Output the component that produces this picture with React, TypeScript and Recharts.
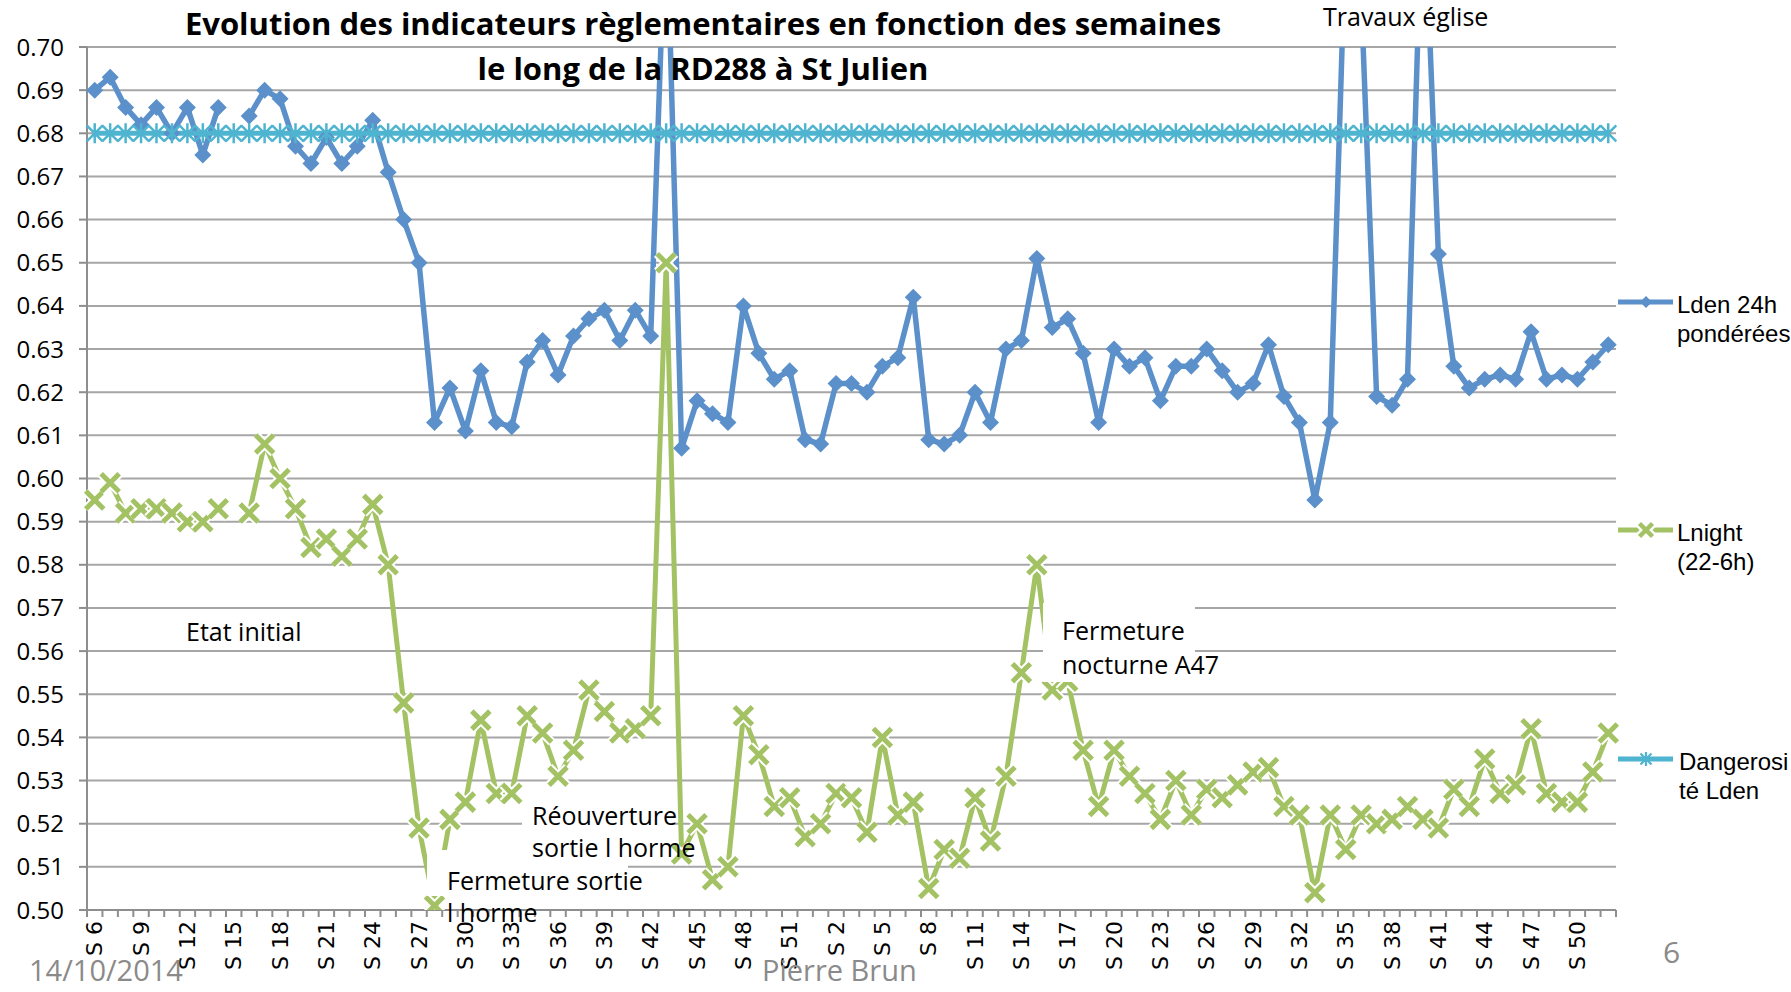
import React from 'react';
import { LineChart, Line, XAxis, YAxis, CartesianGrid } from 'recharts';

// ---------- data ----------
const weeks = [
  6, 7, 8, 9, 10, 11, 12, 13, 14, 15, 16, 17, 18, 19, 20, 21, 22, 23, 24, 25, 26, 27, 28, 29, 30,
  31, 32, 33, 34, 35, 36, 37, 38, 39, 40, 41, 42, 43, 44, 45, 46, 47, 48, 49, 50, 51, 52,
  1, 2, 3, 4, 5, 6, 7, 8, 9, 10, 11, 12, 13, 14, 15, 16, 17, 18, 19, 20, 21, 22, 23, 24, 25, 26,
  27, 28, 29, 30, 31, 32, 33, 34, 35, 36, 37, 38, 39, 40, 41, 42, 43, 44, 45, 46, 47, 48, 49, 50, 51, 52,
];

const ldenValues: (number | null)[] = [
  0.690, 0.693, 0.686, 0.682, 0.686, 0.680, 0.686, 0.675, 0.686, null,
  0.684, 0.690, 0.688, 0.677, 0.673, 0.679, 0.673, 0.677, 0.683, 0.671,
  0.660, 0.650, 0.613, 0.621, 0.611, 0.625, 0.613, 0.612, 0.627, 0.632,
  0.624, 0.633, 0.637, 0.639, 0.632, 0.639, 0.633, 0.735, 0.607, 0.618,
  0.615, 0.613, 0.640, 0.629, 0.623, 0.625, 0.609, 0.608, 0.622, 0.622,
  0.620, 0.626, 0.628, 0.642, 0.609, 0.608, 0.610, 0.620, 0.613, 0.630,
  0.632, 0.651, 0.635, 0.637, 0.629, 0.613, 0.630, 0.626, 0.628, 0.618,
  0.626, 0.626, 0.630, 0.625, 0.620, 0.622, 0.631, 0.619, 0.613, 0.595,
  0.613, 0.727, 0.712, 0.619, 0.617, 0.623, 0.742, 0.652, 0.626, 0.621,
  0.623, 0.624, 0.623, 0.634, 0.623, 0.624, 0.623, 0.627, 0.631,
];

const lnightValues: (number | null)[] = [
  0.595, 0.599, 0.592, 0.593, 0.593, 0.592, 0.590, 0.590, 0.593, null,
  0.592, 0.608, 0.600, 0.593, 0.584, 0.586, 0.582, 0.586, 0.594, 0.580,
  0.548, 0.519, 0.501, 0.521, 0.525, 0.544, 0.527, 0.527, 0.545, 0.541,
  0.531, 0.537, 0.551, 0.546, 0.541, 0.542, 0.545, 0.650, 0.513, 0.520,
  0.507, 0.510, 0.545, 0.536, 0.524, 0.526, 0.517, 0.520, 0.527, 0.526,
  0.518, 0.540, 0.522, 0.525, 0.505, 0.514, 0.512, 0.526, 0.516, 0.531,
  0.555, 0.580, 0.551, 0.553, 0.537, 0.524, 0.537, 0.531, 0.527, 0.521,
  0.530, 0.522, 0.528, 0.526, 0.529, 0.532, 0.533, 0.524, 0.522, 0.504,
  0.522, 0.514, 0.522, 0.520, 0.521, 0.524, 0.521, 0.519, 0.528, 0.524,
  0.535, 0.527, 0.529, 0.542, 0.527, 0.525, 0.525, 0.532, 0.541,
];

const dangerValues: number[] = weeks.map(() => 0.68);

const yTicks = [
  0.50, 0.51, 0.52, 0.53, 0.54, 0.55, 0.56, 0.57, 0.58, 0.59, 0.60,
  0.61, 0.62, 0.63, 0.64, 0.65, 0.66, 0.67, 0.68, 0.69, 0.70,
];

const seriesNames = ['Lden 24h pondérées', 'Lnight (22-6h)', 'Dangerosité Lden'];

const data = weeks.map((w, i) => ({
  week: `S ${w}`,
  lden: ldenValues[i],
  lnight: lnightValues[i],
  danger: dangerValues[i],
}));

// ---------- styles ----------
const W = 1791;
const H = 992;
const PLOT_LEFT = 87;
const PLOT_RIGHT = 1616;
const PLOT_TOP = 47;
const PLOT_BOTTOM = 910;
const BAND = (PLOT_RIGHT - PLOT_LEFT) / weeks.length;

const BLUE = '#5B90CA';
const GREEN = '#A3C264';
const CYAN = '#4FB4CF';
const GRID = '#A6A6A6';
const AXIS = '#8E8E8E';
const CAL = '"Open Sans", "Noto Sans", sans-serif';

const isBad = (v: any) => v == null || Number.isNaN(v);

const DiamondDot = (props: any) => {
  const { cx, cy, value, index } = props;
  if (isBad(cx) || isBad(cy) || value == null || value > 0.7) return <g key={`dd-${index}`} />;
  const r = 8.5;
  return (
    <path
      key={`dd-${index}`}
      d={`M${cx},${cy - r}L${cx + r},${cy}L${cx},${cy + r}L${cx - r},${cy}Z`}
      fill={BLUE}
    />
  );
};

const CrossDot = (props: any) => {
  const { cx, cy, value, index } = props;
  if (isBad(cx) || isBad(cy) || value == null || value > 0.7) return <g key={`cd-${index}`} />;
  const s = 9;
  const d = `M${cx - s},${cy - s}L${cx + s},${cy + s}M${cx - s},${cy + s}L${cx + s},${cy - s}`;
  return (
    <g key={`cd-${index}`}>
      <path d={d} stroke="#fff" strokeWidth={9} />
      <path d={d} stroke={GREEN} strokeWidth={5} />
    </g>
  );
};

const StarDot = (props: any) => {
  const { cx, cy, index } = props;
  if (isBad(cx) || isBad(cy)) return <g key={`sd-${index}`} />;
  const s = 10;
  const k = 8;
  const d = `M${cx},${cy - s}L${cx},${cy + s}M${cx - k},${cy - k}L${cx + k},${cy + k}M${cx - k},${cy + k}L${cx + k},${cy - k}`;
  return <path key={`sd-${index}`} d={d} stroke={CYAN} strokeWidth={2.5} />;
};

const XTick = (props: any) => {
  const { x, y, payload, index } = props;
  const i = payload && payload.index != null ? payload.index : index;
  const show = i % 3 === 0;
  const ty = y + 11;
  return (
    <g>
      <line x1={x - BAND / 2} x2={x - BAND / 2} y1={y} y2={y + 7} stroke={AXIS} strokeWidth={2} />
      {i === weeks.length - 1 && (
        <line x1={x + BAND / 2} x2={x + BAND / 2} y1={y} y2={y + 7} stroke={AXIS} strokeWidth={2} />
      )}
      {show && (
        <text
          x={x}
          y={ty}
          transform={`rotate(-90 ${x} ${ty})`}
          textAnchor="end"
          dominantBaseline="central"
          fontFamily='"DejaVu Sans", sans-serif'
          fontSize={22}
          fill="#000"
        >
          {payload.value}
        </text>
      )}
    </g>
  );
};

const legendItems = [
  { lines: ['Lden 24h', 'pondérées'], color: BLUE, marker: 'diamond', y: 302, tx: 1677 },
  { lines: ['Lnight', '(22-6h)'], color: GREEN, marker: 'cross', y: 530, tx: 1677 },
  { lines: ['Dangerosi', 'té Lden'], color: CYAN, marker: 'star', y: 759, tx: 1679 },
];

function LegendMarker({ kind, color, x, y }: any) {
  if (kind === 'diamond') {
    const r = 6;
    return <path d={`M${x},${y - r}L${x + r},${y}L${x},${y + r}L${x - r},${y}Z`} fill={color} />;
  }
  if (kind === 'cross') {
    const s = 6.5;
    const d = `M${x - s},${y - s}L${x + s},${y + s}M${x - s},${y + s}L${x + s},${y - s}`;
    return (
      <g>
        <path d={d} stroke="#fff" strokeWidth={9} />
        <path d={d} stroke={color} strokeWidth={4.5} />
      </g>
    );
  }
  const s = 7;
  const k = 5.5;
  const d = `M${x},${y - s}L${x},${y + s}M${x - k},${y - k}L${x + k},${y + k}M${x - k},${y + k}L${x + k},${y - k}`;
  return <path d={d} stroke={color} strokeWidth={2.2} />;
}

export default function App() {
  return (
    <div
      style={{
        position: 'absolute',
        left: 0,
        top: 0,
        width: W,
        height: H,
        background: '#fff',
        overflow: 'hidden',
      }}
    >
      <LineChart
        width={W}
        height={H}
        data={data}
        margin={{ top: PLOT_TOP, right: W - PLOT_RIGHT, bottom: 0, left: 0 }}
      >
        <CartesianGrid vertical={false} stroke={GRID} strokeWidth={2} />
        <XAxis
          dataKey="week"
          interval={0}
          height={H - PLOT_BOTTOM}
          padding={{ left: BAND / 2, right: BAND / 2 }}
          tickLine={false}
          tickSize={0}
          tickMargin={0}
          axisLine={{ stroke: AXIS, strokeWidth: 2 }}
          tick={<XTick />}
        />
        <YAxis
          type="number"
          domain={[0.5, 0.7]}
          ticks={yTicks}
          allowDataOverflow
          width={PLOT_LEFT}
          tickFormatter={(v: number) => v.toFixed(2)}
          tickSize={8}
          tickMargin={15}
          tickLine={{ stroke: AXIS, strokeWidth: 2 }}
          axisLine={{ stroke: AXIS, strokeWidth: 2 }}
          tick={{ fontFamily: CAL, fontSize: 24, fill: '#000' }}
        />
        <Line
          name={seriesNames[0]}
          type="linear"
          dataKey="lden"
          stroke={BLUE}
          strokeWidth={5.5}
          strokeLinejoin="round"
          dot={DiamondDot}
          activeDot={false}
          isAnimationActive={false}
        />
        <Line
          name={seriesNames[1]}
          type="linear"
          dataKey="lnight"
          stroke={GREEN}
          strokeWidth={5}
          strokeLinejoin="round"
          dot={CrossDot}
          activeDot={false}
          isAnimationActive={false}
        />
        <Line
          name={seriesNames[2]}
          type="linear"
          dataKey="danger"
          stroke={CYAN}
          strokeWidth={5}
          dot={StarDot}
          activeDot={false}
          isAnimationActive={false}
        />
      </LineChart>

      <svg
        width={W}
        height={H}
        style={{ position: 'absolute', left: 0, top: 0, pointerEvents: 'none' }}
      >
        {/* title */}
        <text x={703} y={35} textAnchor="middle" fontFamily={CAL} fontWeight="bold" fontSize={31} fill="#000">
          Evolution des indicateurs règlementaires en fonction des semaines
        </text>
        <text x={703} y={80} textAnchor="middle" fontFamily={CAL} fontWeight="bold" fontSize={31} fill="#000">
          le long de la RD288 à St Julien
        </text>

        {/* annotation boxes */}
        <rect x={1043} y={603} width={152} height={79} fill="#fff" />
        <rect x={522} y={803} width={150} height={45} fill="#fff" />
        <rect x={427} y={850} width={201} height={46} fill="#fff" />

        {/* annotations */}
        <text x={1323} y={26} fontFamily={CAL} fontSize={25} fill="#000">Travaux église</text>
        <text x={186} y={641} fontFamily={CAL} fontSize={25} fill="#000">Etat initial</text>
        <text x={1062} y={640} fontFamily={CAL} fontSize={25} fill="#000">Fermeture</text>
        <text x={1062} y={674} fontFamily={CAL} fontSize={25} fill="#000">nocturne A47</text>
        <text x={532} y={825} fontFamily={CAL} fontSize={25} fill="#000">Réouverture</text>
        <text x={532} y={857} fontFamily={CAL} fontSize={25} fill="#000">sortie l horme</text>
        <text x={447} y={890} fontFamily={CAL} fontSize={25} fill="#000">Fermeture sortie</text>
        <text x={447} y={922} fontFamily={CAL} fontSize={25} fill="#000">l horme</text>

        {/* legend */}
        {legendItems.map((it) => (
          <g key={it.lines[0]}>
            <line x1={1618} x2={1673} y1={it.y} y2={it.y} stroke={it.color} strokeWidth={5} />
            <LegendMarker kind={it.marker} color={it.color} x={1646} y={it.y} />
            <text x={it.tx} y={it.y + 11} fontFamily='"Liberation Sans", Arial, sans-serif' fontSize={24} fill="#000">
              {it.lines[0]}
            </text>
            <text x={it.tx} y={it.y + 40} fontFamily='"Liberation Sans", Arial, sans-serif' fontSize={24} fill="#000">
              {it.lines[1]}
            </text>
          </g>
        ))}

        {/* footer */}
        <text x={29} y={981} fontFamily={CAL} fontSize={29} fill="#8A8A8A">14/10/2014</text>
        <text x={762} y={981} fontFamily={CAL} fontSize={29} fill="#8A8A8A">Pierre Brun</text>
        <text x={1663} y={963} fontFamily={CAL} fontSize={30} fill="#8A8A8A">6</text>
      </svg>
    </div>
  );
}
